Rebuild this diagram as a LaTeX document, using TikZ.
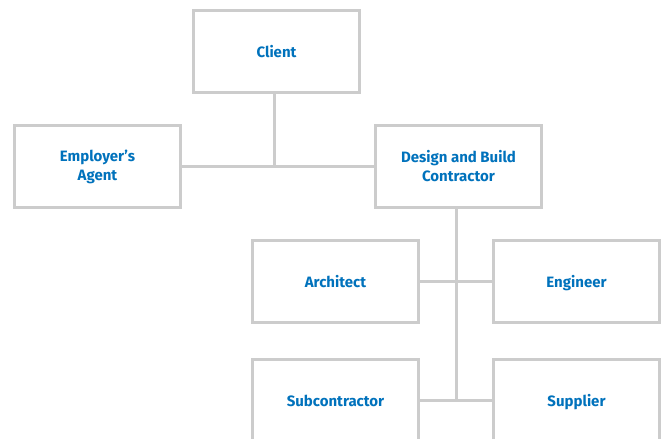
\documentclass[tikz,border=0pt]{standalone}
\usepackage{fontspec}
\setmainfont{Fira Sans}
\definecolor{txtblue}{RGB}{0,114,188}
\definecolor{linegray}{RGB}{204,204,204}
\begin{document}
\begin{tikzpicture}[x=1pt,y=-1pt,
  box/.style={draw=linegray,line width=3pt,minimum width=166pt,minimum height=82pt,
    align=center,font=\fontsize{15}{19}\selectfont\bfseries,text=txtblue,fill=white},
  oneline/.style={text height=12pt,text depth=0.5pt},
  conn/.style={draw=linegray,line width=3pt}]
\useasboundingbox (0,0) rectangle (667,439);
\node[box,oneline] (client) at (276.5,51.5) {Client};
\node[box] (ea) at (97.5,166.5) {Employer’s\\Agent};
\node[box] (db) at (458.5,166.5) {Design and Build\\Contractor};
\node[box,oneline] (arch) at (335.5,281.5) {Architect};
\node[box,oneline] (eng) at (576.5,281.5) {Engineer};
\node[box,oneline] (sub) at (335.5,400.5) {Subcontractor};
\node[box,oneline] (sup) at (576.5,400.5) {Supplier};
\draw[conn] (ea.east) -- (db.west);
\draw[conn] ([xshift=-2pt]client.south) -- ([xshift=-2pt]client.south |- ea.east);
\draw[conn] ([xshift=-2.5pt]db.south) -- ([xshift=-2.5pt]db.south |- sub.east);
\draw[conn] (arch.east) -- (eng.west);
\draw[conn] (sub.east) -- (sup.west);
\end{tikzpicture}
\end{document}
